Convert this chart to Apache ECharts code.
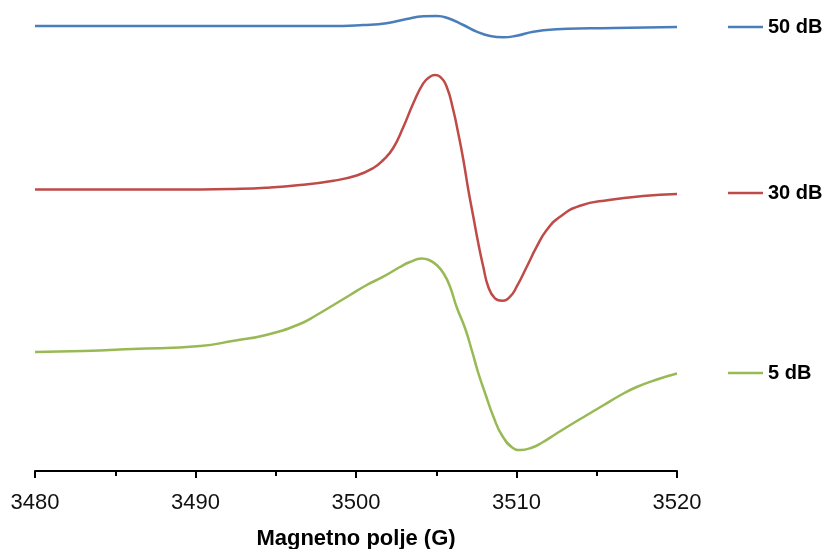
<!DOCTYPE html>
<html>
<head>
<meta charset="utf-8">
<script src="https://cdn.jsdelivr.net/npm/echarts@6/dist/echarts.min.js"></script>
<style>html,body{margin:0;padding:0;background:#fff}#c{width:826px;height:549px}</style>
</head>
<body>
<div id="c"></div>
<script>
// Magnetic field (G) and offset EPR signal (arbitrary units) for each attenuation
var field50 = [3480,3485,3490,3495,3498.4,3500.45,3501.9,3503.16,3504.19,3505.03,3505.75,3506.69,3507.52,3508.35,3509.18,3510.01,3511.05,3512.5,3514.58,3517.07,3520];
var signal50 = [444,444,444,444,444,445,446.7,451,453.7,454,451.7,445,438.3,434,432.7,434.3,438.3,440.7,441.7,442.3,443];

var field30 = [3480,3485,3490.3,3492.4,3494.4,3496.5,3498.6,3500.04,3501.08,3501.7,3502.32,3502.95,3503.57,3504.19,3504.61,3504.92,3505.23,3505.65,3506.06,3506.37,3506.69,3507.0,3507.31,3507.62,3507.93,3508.24,3508.66,3509.12,3509.6,3510.01,3510.64,3511.26,3511.88,3512.71,3513.96,3515.76,3517.88,3520];
var signal30 = [280.5,280.5,280.5,281,282.3,285,289.3,294.5,302,310,322,343,366.7,386.7,393.3,395,393.3,383.3,360,336.7,310,280,253.3,226.7,203.3,183.3,171.7,169.3,173.3,183.3,203.3,223.3,240,253.3,264.3,270,274,276];

var field5 = [3480,3483,3486.1,3490.3,3492.4,3494.4,3496.5,3497.55,3498.6,3499.63,3500.67,3501.7,3502.74,3503.36,3504.09,3504.55,3505.03,3505.48,3505.86,3506.27,3506.79,3507.21,3507.63,3508.05,3508.57,3509.1,3509.73,3510.25,3510.98,3511.61,3512.45,3513.3,3514.34,3515.39,3516.44,3517.49,3518.75,3520];
var signal5 = [118,119,121,124,129.3,135,146,155,165,175,185,193.3,203,208,211.5,210,205,196,183.3,163,142,120,96.5,76.5,53,34.5,22.5,20,22.5,27.5,36,44.5,54.5,64.5,74.5,83,90.5,96.5];

var seriesNames = ['50 dB','30 dB','5 dB'];
var xTicks = {min:3480, max:3520, step:10};
var xTitle = 'Magnetno polje (G)';

function pairs(xs, ys){ return xs.map(function(x,i){ return [x, ys[i]]; }); }

var colors = ['#4A7EBB','#BE4B48','#98B954'];
var FONT = 'Liberation Sans';

var chart = echarts.init(document.getElementById('c'), null, {renderer:'canvas'});
function mkLegend(name, top){
  return {
    data:[name], left:728, top:top, padding:0, orient:'horizontal',
    icon:'rect', itemWidth:35, itemHeight:2.5, itemGap:5,
    textStyle:{fontFamily:FONT, fontSize:20, fontWeight:'bold', color:'#000'},
    selectedMode:false
  };
}
var lineSeries = [[field50,signal50],[field30,signal30],[field5,signal5]].map(function(d,i){
  return {
    name: seriesNames[i], type:'line', data: pairs(d[0], d[1]),
    symbol:'none', showSymbol:false, smooth:0.5,
    lineStyle:{color:colors[i], width:2.5}, itemStyle:{color:colors[i]},
    emphasis:{disabled:true}
  };
});
chart.setOption({
  animation:false,
  backgroundColor:'#fff',
  grid:{left:35, right:149, top:11, bottom:78, outerBoundsMode:'none', containLabel:false},
  legend:[mkLegend('50 dB',17), mkLegend('30 dB',183), mkLegend('5 dB',363)],
  xAxis:{
    type:'value', min:xTicks.min, max:xTicks.max, interval:xTicks.step,
    name:xTitle, nameLocation:'middle', nameGap:57,
    nameTextStyle:{fontFamily:FONT, fontSize:22, fontWeight:'bold', color:'#000'},
    axisLine:{show:true, onZero:false, lineStyle:{color:'#000', width:2}},
    axisTick:{show:true, length:7, lineStyle:{color:'#000', width:2}},
    minorTick:{show:true, splitNumber:2, length:5, lineStyle:{color:'#000', width:2}},
    splitLine:{show:false},
    axisLabel:{fontFamily:FONT, fontSize:22, color:'#111', margin:21,
      formatter:function(v){ return String(v); }}
  },
  yAxis:{type:'value', min:-1, max:459, show:false, splitLine:{show:false}},
  series: lineSeries
});
</script>
</body>
</html>
